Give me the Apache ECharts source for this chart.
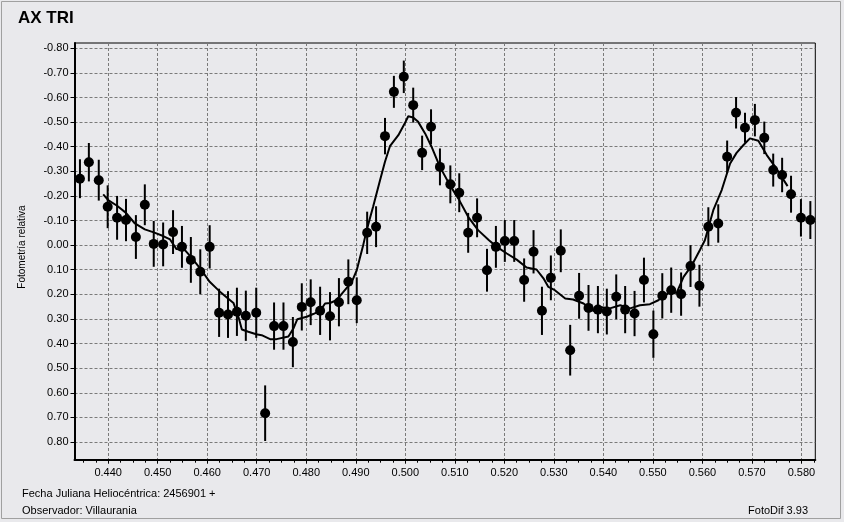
<!DOCTYPE html>
<html>
<head>
<meta charset="utf-8">
<script src="https://cdn.jsdelivr.net/npm/echarts@6/dist/echarts.min.js"></script>
<style>
html,body{margin:0;padding:0;background:#e9e9ec;}
#c{width:844px;height:522px;}
</style>
</head>
<body>
<div id="c"></div>
<script>
// ---- data ----
const xTicks = [0.440,0.450,0.460,0.470,0.480,0.490,0.500,0.510,0.520,0.530,0.540,0.550,0.560,0.570,0.580];
const yTicks = [-0.80,-0.70,-0.60,-0.50,-0.40,-0.30,-0.20,-0.10,0.00,0.10,0.20,0.30,0.40,0.50,0.60,0.70,0.80];

const hjd = [0.4343,0.4361,0.4381,0.4399,0.4418,0.4436,0.4456,0.4474,0.4492,0.4511,
             0.4531,0.4549,0.4567,0.4586,0.4605,0.4624,0.4642,0.4660,0.4678,0.4699,
             0.4717,0.4735,0.4754,0.4773,0.4791,0.4809,0.4828,0.4848,0.4866,0.4885,
             0.4902,0.4923,0.4941,0.4959,0.4977,0.4997,0.5016,0.5034,0.5052,0.5070,
             0.5091,0.5109,0.5127,0.5145,0.5165,0.5183,0.5201,0.5220,0.5240,0.5259,
             0.5276,0.5294,0.5314,0.5333,0.5351,0.5370,0.5389,0.5407,0.5426,0.5444,
             0.5463,0.5482,0.5501,0.5519,0.5537,0.5557,0.5576,0.5594,0.5612,0.5632,
             0.5650,0.5668,0.5686,0.5706,0.5725,0.5743,0.5761,0.5779,0.5799,0.5818];
const mag = [-0.270,-0.337,-0.264,-0.156,-0.111,-0.102,-0.033,-0.164,-0.005,-0.003,
             -0.053,0.007,0.060,0.108,0.007,0.275,0.282,0.271,0.287,0.275,
             0.683,0.329,0.329,0.394,0.251,0.232,0.267,0.289,0.232,0.149,
             0.224,-0.050,-0.075,-0.443,-0.623,-0.684,-0.569,-0.375,-0.481,-0.318,
             -0.247,-0.213,-0.050,-0.111,0.102,0.007,-0.017,-0.017,0.142,0.027,
             0.267,0.133,0.023,0.427,0.206,0.255,0.262,0.270,0.210,0.262,
             0.278,0.142,0.362,0.206,0.183,0.199,0.085,0.165,-0.075,-0.088,
             -0.359,-0.538,-0.477,-0.508,-0.436,-0.305,-0.285,-0.207,-0.111,-0.102];
const err = [0.079,0.078,0.083,0.087,0.089,0.086,0.089,0.083,0.093,0.089,
             0.089,0.085,0.093,0.091,0.088,0.098,0.095,0.098,0.102,0.102,
             0.113,0.096,0.096,0.102,0.096,0.093,0.098,0.098,0.098,0.091,
             0.093,0.086,0.083,0.074,0.065,0.066,0.071,0.070,0.071,0.075,
             0.077,0.079,0.081,0.079,0.087,0.085,0.085,0.085,0.088,0.088,
             0.098,0.091,0.087,0.103,0.093,0.093,0.096,0.093,0.091,0.096,
             0.092,0.091,0.096,0.092,0.092,0.088,0.085,0.085,0.079,0.078,
             0.066,0.064,0.061,0.066,0.066,0.067,0.070,0.075,0.076,0.077];

const fitX = [0.4390,0.4400,0.4418,0.4436,0.4454,0.4474,0.4492,0.4511,0.4525,0.4538,
              0.4555,0.4567,0.4586,0.4605,0.4624,0.4642,0.4653,0.4663,0.4670,0.4683,
              0.4699,0.4710,0.4727,0.4740,0.4764,0.4774,0.4782,0.4801,0.4814,0.4828,
              0.4838,0.4848,0.4861,0.4875,0.4892,0.4902,0.4908,0.4915,0.4922,0.4935,
              0.4949,0.4959,0.4969,0.4986,0.4999,0.5006,0.5016,0.5026,0.5040,0.5053,
              0.5070,0.5090,0.5107,0.5127,0.5147,0.5169,0.5185,0.5205,0.5225,0.5245,
              0.5265,0.5279,0.5289,0.5302,0.5323,0.5339,0.5360,0.5380,0.5393,0.5413,
              0.5434,0.5454,0.5474,0.5494,0.5511,0.5531,0.5548,0.5562,0.5579,0.5595,
              0.5605,0.5622,0.5639,0.5656,0.5669,0.5683,0.5696,0.5713,0.5730,0.5747,
              0.5772];
const fitY = [-0.206,-0.183,-0.160,-0.131,-0.088,-0.064,-0.052,-0.037,-0.023,0.016,
              0.020,0.048,0.095,0.149,0.186,0.217,0.235,0.291,0.343,0.352,
              0.362,0.366,0.382,0.382,0.371,0.339,0.301,0.291,0.280,0.267,
              0.237,0.235,0.224,0.190,0.149,0.102,0.054,0.000,-0.061,-0.156,
              -0.264,-0.339,-0.402,-0.447,-0.495,-0.524,-0.519,-0.501,-0.454,-0.400,
              -0.318,-0.244,-0.190,-0.115,-0.061,-0.020,0.007,0.034,0.059,0.091,
              0.099,0.135,0.170,0.183,0.217,0.221,0.237,0.268,0.251,0.257,
              0.244,0.257,0.244,0.240,0.224,0.196,0.194,0.129,0.081,0.020,
              -0.020,-0.142,-0.224,-0.332,-0.375,-0.407,-0.434,-0.424,-0.366,-0.318,
              -0.240];

const xMin = 0.4332, xMax = 0.5828;
const yMin = -0.8215, yMax = 0.872;

// minor tick positions along x (every 0.0025)
const xMinor = [];
for (let i = 0; i <= 60; i++) {
  const v = +(0.4325 + i * 0.0025).toFixed(4);
  if (v > xMin && v < xMax) xMinor.push(v);
}

const pts = hjd.map((x, i) => [x, mag[i]]);
const bars = hjd.map((x, i) => [x, mag[i], err[i]]);
const fit = fitX.map((x, i) => [x, fitY[i]]);

const FONT = 'Liberation Sans, Arial, sans-serif';

const chart = echarts.init(document.getElementById('c'), null, {renderer: 'canvas'});
chart.setOption({
  backgroundColor: '#e9e9ec',
  animation: false,
  grid: {
    left: 74.5, right: 28.7, top: 43, bottom: 62.3,
    show: true, borderColor: '#000', borderWidth: 1, backgroundColor: 'transparent'
  },
  xAxis: [{
    type: 'value', min: xMin, max: xMax,
    axisLine: {show: true, onZero: false, lineStyle: {color: '#000', width: 2}},
    axisTick: {show: true, length: 4, customValues: xTicks, lineStyle: {color: '#000', width: 1}},
    axisLabel: {customValues: xTicks, color: '#000', fontSize: 11, fontFamily: FONT, margin: 8,
                formatter: v => v.toFixed(3)},
    splitLine: {show: true, lineStyle: {color: '#7a7a7a', type: [3, 2], width: 1}}
  }, {
    type: 'value', min: xMin, max: xMax, position: 'bottom',
    axisLine: {show: false, onZero: false},
    axisTick: {show: true, length: 3, customValues: xMinor, lineStyle: {color: '#000', width: 1}},
    axisLabel: {show: false},
    splitLine: {show: false}
  }],
  yAxis: [{
    type: 'value', min: yMin, max: yMax, inverse: true,
    axisLine: {show: true, onZero: false, lineStyle: {color: '#000', width: 2}},
    axisTick: {show: true, length: 4, customValues: yTicks, lineStyle: {color: '#000', width: 1}},
    axisLabel: {customValues: yTicks, color: '#000', fontSize: 11, fontFamily: FONT, margin: 6,
                formatter: v => v.toFixed(2)},
    splitLine: {show: true, lineStyle: {color: '#7a7a7a', type: [3, 2], width: 1}}
  }],
  series: [
    {
      type: 'custom',
      xAxisIndex: 0, yAxisIndex: 0,
      data: bars,
      encode: {x: 0, y: 1},
      renderItem: function (params, api) {
        const x = api.value(0), y = api.value(1), e = api.value(2);
        const p1 = api.coord([x, y - e]);
        const p2 = api.coord([x, y + e]);
        return {
          type: 'line',
          shape: {x1: p1[0], y1: p1[1], x2: p2[0], y2: p2[1]},
          style: {stroke: '#000', lineWidth: 2}
        };
      },
      z: 2
    },
    {
      type: 'line',
      data: fit,
      showSymbol: false,
      symbol: 'none',
      lineStyle: {color: '#000', width: 2},
      z: 3
    },
    {
      type: 'scatter',
      data: pts,
      symbol: 'circle',
      symbolSize: 10,
      itemStyle: {color: '#000', opacity: 1},
      z: 4
    }
  ],
  graphic: [
    {type: 'rect', shape: {x: 1.5, y: 1.5, width: 839, height: 517},
     style: {fill: 'none', stroke: '#a0a0a0', lineWidth: 1}, silent: true},
    {type: 'text', x: 18, y: 18.5,
     style: {text: 'AX TRI', fill: '#000', font: 'bold 17px ' + FONT, textVerticalAlign: 'middle'}},
    {type: 'text', x: 22, y: 247, rotation: Math.PI / 2,
     style: {text: 'Fotometría relativa', fill: '#000', font: '10px ' + FONT,
             textAlign: 'center', textVerticalAlign: 'middle'}},
    {type: 'text', x: 22, y: 494,
     style: {text: 'Fecha Juliana Heliocéntrica: 2456901 +', fill: '#000', font: '11px ' + FONT,
             textVerticalAlign: 'middle'}},
    {type: 'text', x: 22, y: 510.5,
     style: {text: 'Observador: Villaurania', fill: '#000', font: '11px ' + FONT,
             textVerticalAlign: 'middle'}},
    {type: 'text', x: 808, y: 510.5,
     style: {text: 'FotoDif 3.93', fill: '#000', font: '11px ' + FONT,
             textAlign: 'right', textVerticalAlign: 'middle'}}
  ]
});
</script>
</body>
</html>
